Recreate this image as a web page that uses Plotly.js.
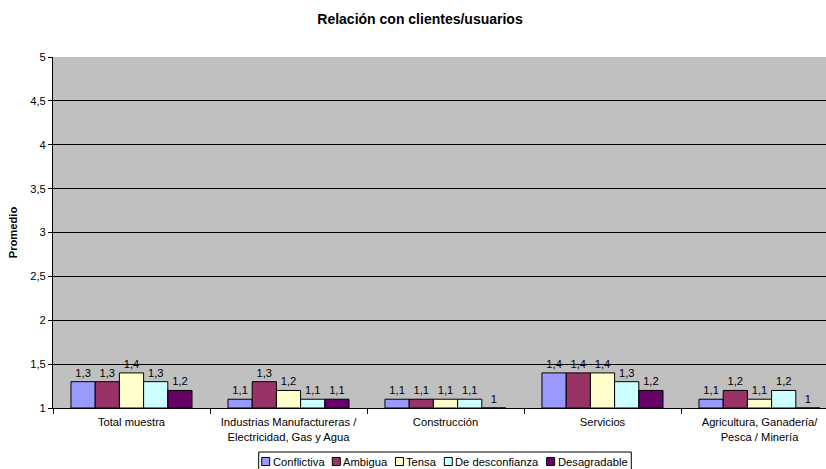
<!DOCTYPE html>
<html>
<head>
<meta charset="utf-8">
<script src="https://cdn.plot.ly/plotly-3.0.1.min.js"></script>
<style>html,body{margin:0;padding:0;background:#fff;overflow:hidden;width:826px;height:469px;}#chart{width:840px;height:469px;}</style>
</head>
<body>
<div id="chart"></div>
<script>
const categories = ["Total muestra", "Industrias Manufactureras /<br>Electricidad, Gas y Agua", "Construcción", "Servicios", "Agricultura, Ganadería/<br>Pesca / Minería"];
const seriesNames = ["Conflictiva", "Ambigua", "Tensa", "De desconfianza", "Desagradable"];
const conflictiva = [1.3, 1.1, 1.1, 1.4, 1.1];
const ambigua = [1.3, 1.3, 1.1, 1.4, 1.2];
const tensa = [1.4, 1.2, 1.1, 1.4, 1.1];
const desconfianza = [1.3, 1.1, 1.1, 1.3, 1.2];
const desagradable = [1.2, 1.1, 1.0, 1.2, 1.0];
const colors = ["#9999FF", "#993366", "#FFFFCC", "#CCFFFF", "#660066"];
const allSeries = [conflictiva, ambigua, tensa, desconfianza, desagradable];

const FONT = "Liberation Sans, Arial, sans-serif";
const FS = 11.2;
const W = 840, H = 469;
const M = {l: 53, r: 2, t: 57, b: 61};
const PW = W - M.l - M.r, PH = H - M.t - M.b;

const traces = allSeries.map((vals, i) => ({
  type: "bar",
  name: seriesNames[i],
  x: categories,
  y: vals.map(v => v - 1),
  base: 1,
  text: vals.map(v => v.toLocaleString("es-ES", {maximumFractionDigits: 1})),
  texttemplate: "%{text}",
  textposition: "outside",
  cliponaxis: false,
  textfont: {family: FONT, size: FS, color: "#000"},
  marker: {color: colors[i], line: {color: "#000", width: 1}},
  hoverinfo: "skip"
}));

// Custom compact legend (Excel style), laid out from measured text widths
const canvas = document.createElement("canvas");
const ctx = canvas.getContext("2d");
ctx.font = FS + "px 'Liberation Sans'";
const sym = 8, symGap = 3, itemGap = 8, padL = 3, padR = 4;
const widths = seriesNames.map(s => ctx.measureText(s).width);
let total = padL + padR;
widths.forEach((w, i) => { total += sym + symGap + w + (i < widths.length - 1 ? itemGap : 0); });
const legCenter = 445;
const legLeft = legCenter - total / 2;
const legTop = 452, legBottom = 472, legMid = 461.5;
const px2x = px => (px - M.l) / PW;
const py2y = py => (M.t + PH - py) / PH;

const shapes = [{type: "rect", xref: "paper", yref: "paper", x0: px2x(legLeft), x1: px2x(legLeft + total),
  y0: py2y(legBottom), y1: py2y(legTop), line: {color: "#000", width: 1}, fillcolor: "#fff", layer: "above"}];
const annotations = [];
let cx = legLeft + padL;
seriesNames.forEach((s, i) => {
  shapes.push({type: "rect", xref: "paper", yref: "paper", x0: px2x(cx), x1: px2x(cx + sym),
    y0: py2y(legMid + sym / 2), y1: py2y(legMid - sym / 2), fillcolor: colors[i],
    line: {color: "#000", width: 1}, layer: "above"});
  cx += sym + symGap;
  annotations.push({xref: "paper", yref: "paper", x: px2x(cx - 1), y: py2y(legMid), xanchor: "left", yanchor: "middle",
    text: s, showarrow: false, font: {family: FONT, size: FS, color: "#000"}, borderpad: 0});
  cx += widths[i] + itemGap;
});

const layout = {
  width: W, height: H,
  margin: M,
  paper_bgcolor: "#fff",
  plot_bgcolor: "#C0C0C0",
  separators: ",.",
  font: {family: FONT, size: FS, color: "#000"},
  title: {text: "<b>Relación con clientes/usuarios</b>", x: 420 / W, xanchor: "center", y: 1 - 19 / H, yanchor: "middle", font: {size: 14}},
  barmode: "group",
  bargap: 0.229,
  bargroupgap: 0,
  showlegend: false,
  shapes: shapes,
  annotations: annotations,
  xaxis: {type: "category", showline: true, linecolor: "#000", linewidth: 1, ticks: "outside",
    tickson: "boundaries", ticklen: 5, tickcolor: "#000", showgrid: false, tickfont: {size: FS},
    ticklabelstandoff: 4, automargin: false},
  yaxis: {range: [1, 5], dtick: 0.5, tick0: 1, showline: true, linecolor: "#000", linewidth: 1,
    ticks: "outside", ticklen: 4, tickcolor: "#000", showgrid: true, gridcolor: "#000", gridwidth: 1,
    tickfont: {size: FS}, zeroline: false, automargin: false,
    title: {text: "<b>Promedio</b>", font: {size: FS}, standoff: 10}}
};

Plotly.newPlot("chart", traces, layout, {displayModeBar: false, staticPlot: true});
</script>
</body>
</html>
